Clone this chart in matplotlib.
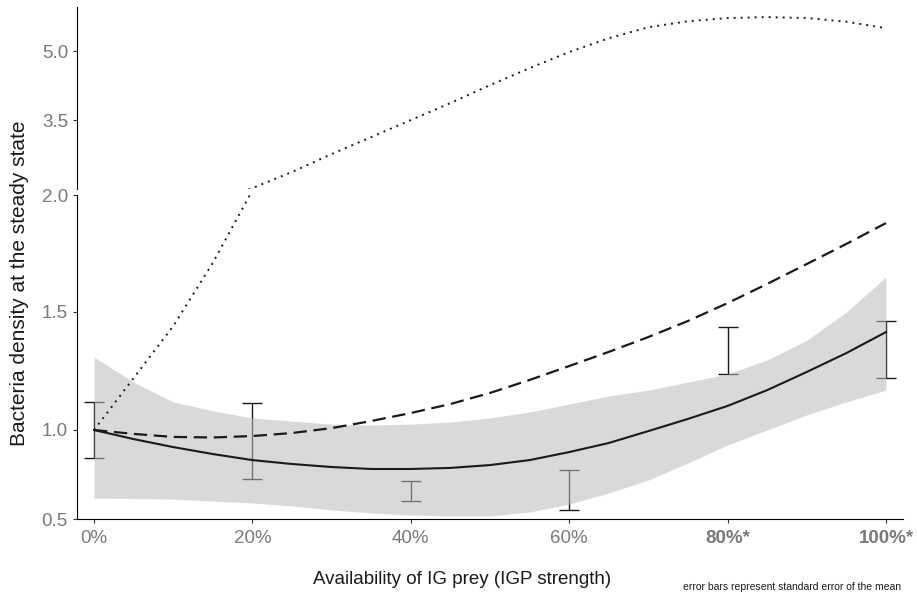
import numpy as np
import matplotlib.pyplot as plt

plt.rcParams['font.family'] = ['Liberation Sans', 'DejaVu Sans']

# IG prey availability (%) at which curves were read
avail = [0, 5, 10, 15, 20, 25, 30, 35, 40, 45, 50,
         55, 60, 65, 70, 75, 80, 85, 90, 95, 100]

# fitted model (solid), with confidence band
fit_mean = [1.000, 0.949, 0.904, 0.865, 0.831, 0.809, 0.792, 0.781, 0.781, 0.787, 0.803,
            0.831, 0.876, 0.927, 0.994, 1.047, 1.102, 1.169, 1.246, 1.326, 1.415]
band_hi = [1.309, 1.203, 1.119, 1.081, 1.051, 1.038, 1.025, 1.021, 1.025, 1.034, 1.051,
           1.076, 1.110, 1.144, 1.169, 1.203, 1.237, 1.297, 1.380, 1.500, 1.650]
band_lo = [0.618, 0.615, 0.612, 0.601, 0.590, 0.573, 0.551, 0.534, 0.522, 0.517, 0.517,
           0.539, 0.584, 0.646, 0.719, 0.815, 0.916, 1.000, 1.064, 1.119, 1.169]

# dashed prediction
dashed = [1.000, 0.978, 0.961, 0.958, 0.966, 0.983, 1.008, 1.038, 1.072, 1.110, 1.157,
          1.212, 1.271, 1.331, 1.394, 1.462, 1.538, 1.620, 1.705, 1.791, 1.880]

# dotted prediction (goes above the axis break)
dotted_x = [0, 5, 10, 15, 20, 25, 30, 35, 40, 45, 50,
            55, 60, 65, 70, 75, 80, 85, 90, 95, 100]
dotted = [1.0, 1.22, 1.44, 1.71, 2.02, 2.37, 2.76, 3.13, 3.50, 3.87, 4.26,
          4.63, 4.98, 5.28, 5.52, 5.65, 5.72, 5.74, 5.72, 5.64, 5.50]

# observed means +- SE
obs_x = [0, 20, 40, 60, 80, 100]
obs_lo = [0.843, 0.725, 0.601, 0.551, 1.237, 1.220]
obs_hi = [1.119, 1.114, 0.713, 0.775, 1.436, 1.462]

xtick_labels = ['0%', '20%', '40%', '60%', '80%*', '100%*']

# lower panel uses uneven spacing between its breaks
low_ticks = [0.5, 1.0, 1.5, 2.0]
low_pos = [0.0, 89.0, 207.0, 324.0]


def fwd(v):
    v = np.asarray(v, dtype=float)
    out = np.interp(v, low_ticks, low_pos)
    s0 = (low_pos[1] - low_pos[0]) / (low_ticks[1] - low_ticks[0])
    s1 = (low_pos[-1] - low_pos[-2]) / (low_ticks[-1] - low_ticks[-2])
    out = np.where(v < low_ticks[0], low_pos[0] + (v - low_ticks[0]) * s0, out)
    out = np.where(v > low_ticks[-1], low_pos[-1] + (v - low_ticks[-1]) * s1, out)
    return out


def inv(p):
    p = np.asarray(p, dtype=float)
    out = np.interp(p, low_pos, low_ticks)
    s0 = (low_ticks[1] - low_ticks[0]) / (low_pos[1] - low_pos[0])
    s1 = (low_ticks[-1] - low_ticks[-2]) / (low_pos[-1] - low_pos[-2])
    out = np.where(p < low_pos[0], low_ticks[0] + (p - low_pos[0]) * s0, out)
    out = np.where(p > low_pos[-1], low_ticks[-1] + (p - low_pos[-1]) * s1, out)
    return out


W, H = 917, 613
fig = plt.figure(figsize=(W / 100, H / 100), dpi=100)
left, right = 77 / W, 903 / W
ax = fig.add_axes([left, 1 - 519 / H, right - left, (519 - 195) / H])
ax_top = fig.add_axes([left, 1 - 189 / H, right - left, (189 - 7) / H])

tick_grey = '#7a7a7a'
band_col = (0.73, 0.735, 0.75)
ink = '#1a1a1a'

# lower panel
ax.set_yscale('function', functions=(fwd, inv))
mid = [(a + b) / 2 for a, b in zip(obs_lo, obs_hi)]
err = [(b - a) / 2 for a, b in zip(obs_lo, obs_hi)]
ax.errorbar(obs_x, mid, yerr=err, fmt='none', ecolor=ink, elinewidth=1.0,
            capsize=7, capthick=1.0, zorder=1)
ax.fill_between(avail, band_lo, band_hi, color=band_col, alpha=0.55, lw=0, zorder=2)
ax.plot(avail, fit_mean, color=ink, lw=1.5, zorder=4)
ax.plot(avail, dashed, color=ink, lw=1.6, linestyle=(0, (6, 3)), zorder=4)
ax.plot(dotted_x, dotted, color=ink, lw=1.4, linestyle=(0, (1, 2.6)), zorder=4)
ax.set_ylim(0.5, 2.0)
ax.set_yticks(low_ticks)
ax.set_yticklabels(['0.5', '1.0', '1.5', '2.0'])
ax.set_xlim(-2.15, 102.15)
ax.set_xticks(obs_x)
ax.set_xticklabels(xtick_labels)
for lbl in ax.get_xticklabels()[4:]:
    lbl.set_fontweight('bold')
ax.spines['top'].set_visible(False)
ax.spines['right'].set_visible(False)
ax.tick_params(axis='both', colors='#333333', labelcolor=tick_grey, labelsize=13.5,
               length=3, width=0.8)
ax.tick_params(axis='x', pad=5)

# upper panel
ax_top.plot(dotted_x, dotted, color=ink, lw=1.4, linestyle=(0, (1, 2.6)))
ax_top.set_ylim(2.0, 5.96)
ax_top.set_yticks([3.5, 5.0])
ax_top.set_yticklabels(['3.5', '5.0'])
ax_top.set_xlim(-2.15, 102.15)
ax_top.set_xticks([])
for s in ['top', 'right', 'bottom']:
    ax_top.spines[s].set_visible(False)
ax_top.tick_params(axis='y', colors='#333333', labelcolor=tick_grey, labelsize=13.5,
                   length=3, width=0.8)
for a in (ax, ax_top):
    a.patch.set_alpha(0)

fig.text(462 / W, 1 - 580 / H, 'Availability of IG prey (IGP strength)',
         ha='center', va='center', fontsize=13.5, color=ink)
fig.text(20 / W, 1 - 283 / H, 'Bacteria density at the steady state',
         ha='center', va='center', rotation=90, fontsize=15, color=ink)
fig.text(792 / W, 1 - 587 / H, 'error bars represent standard error of the mean',
         ha='center', va='center', fontsize=7.5, color=ink)

fig.savefig('out.png', dpi=100)
